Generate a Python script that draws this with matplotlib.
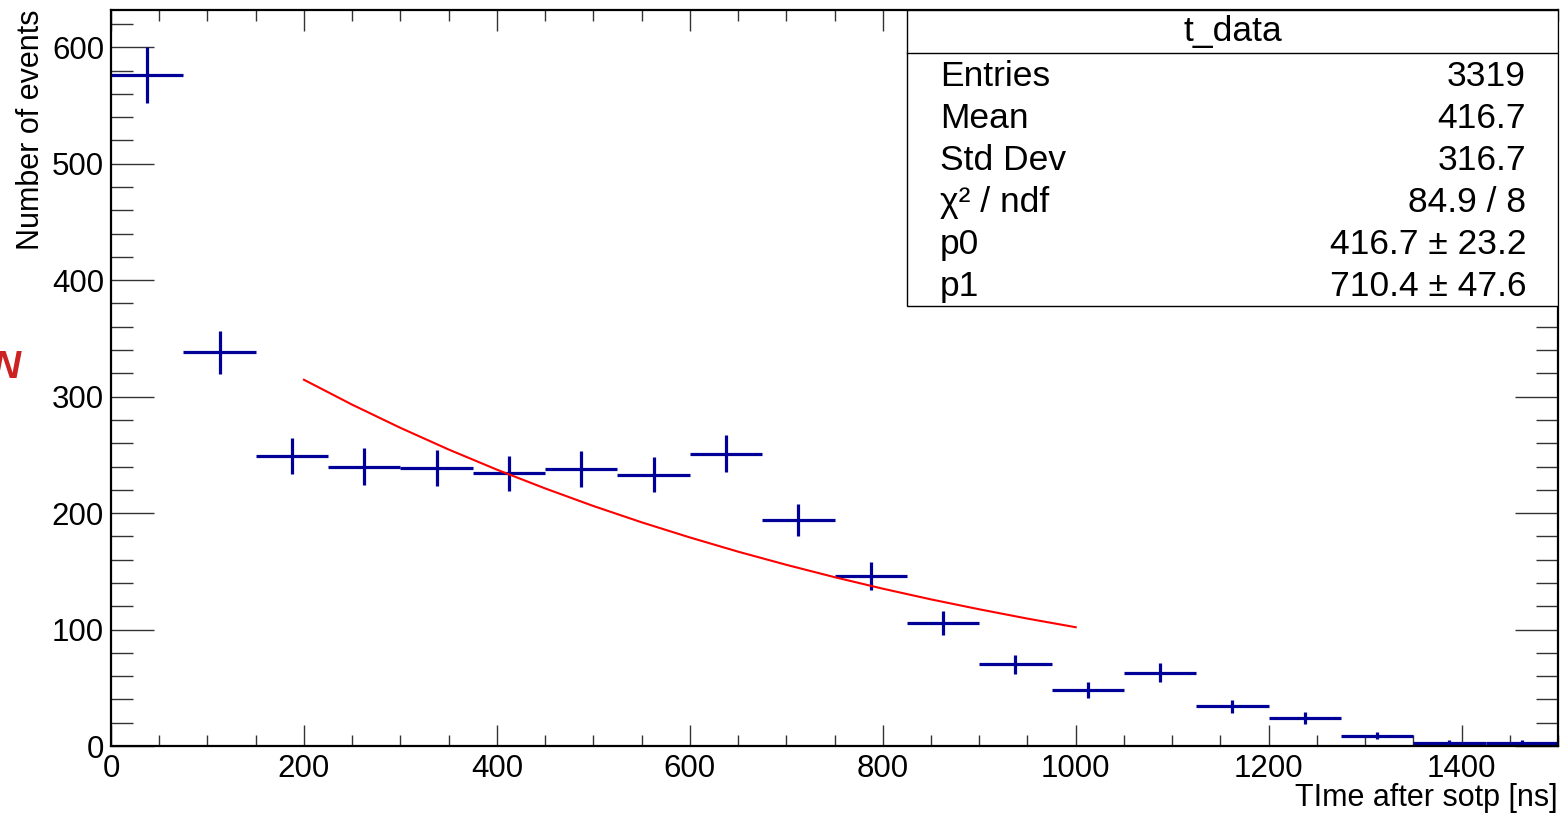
import numpy as np
import matplotlib
matplotlib.use('Agg')
import matplotlib.pyplot as plt
from matplotlib.ticker import MultipleLocator
from matplotlib.patches import Rectangle

# histogram contents (20 bins of 75 ns)
bin_edges = np.arange(0, 1501, 75)
counts = [576, 338, 249, 240, 239, 234, 238, 233, 251, 194,
          146, 106, 70, 48, 63, 34, 24, 9, 3, 3]

# fit curve
fit_x = [200, 250, 300, 350, 400, 450, 500, 550, 600, 650,
         700, 750, 800, 850, 900, 950, 1000]
fit_y = [314.5, 293.1, 273.2, 254.6, 237.3, 221.2, 206.1, 192.1, 179.1, 166.9,
         155.6, 145.0, 135.1, 125.9, 117.4, 109.4, 102.0]

# stats box
stat_title = 't_data'
stat_names = ['Entries', 'Mean', 'Std Dev', 'χ² / ndf', 'p0', 'p1']
stat_values = ['3319', '416.7', '316.7', '84.9 / 8',
               '416.7 ± 23.2', '710.4 ± 47.6']

plt.rcParams['font.family'] = ['Liberation Sans', 'DejaVu Sans']

fig = plt.figure(figsize=(15.63, 8.13), dpi=100)
ax = fig.add_axes([111/1563, 67/813, 1447/1563, 736/813])

centers = (bin_edges[:-1] + bin_edges[1:]) / 2
counts = np.array(counts)
ax.errorbar(centers, counts, xerr=37.5, yerr=np.sqrt(counts), fmt='none',
            ecolor='#000099', elinewidth=2.3, capsize=0)
ax.plot(fit_x, fit_y, color='#ff0000', lw=1.5)

ax.set_xlim(0, 1500)
ax.set_ylim(0, 632)
for s in ax.spines.values():
    s.set_linewidth(1.6)

ax.xaxis.set_major_locator(MultipleLocator(200))
ax.xaxis.set_minor_locator(MultipleLocator(50))
ax.yaxis.set_major_locator(MultipleLocator(100))
ax.yaxis.set_minor_locator(MultipleLocator(20))
ax.tick_params(which='both', direction='in', top=True, right=True,
               labelsize=22.5, color='#333333', width=1)
ax.tick_params(axis='x', which='major', length=15, pad=6)
ax.tick_params(axis='x', which='minor', length=8)
ax.tick_params(axis='y', which='major', length=31, pad=5)
ax.tick_params(axis='y', which='minor', length=16)

ax.set_ylabel('Number of events', fontsize=22, loc='top', labelpad=4)
ax.set_xlabel('TIme after sotp [ns]', fontsize=22, loc='right', labelpad=-1)

# stats box
bx0, by0 = (907-111)/1447, (746-306)/736
ax.add_patch(Rectangle((bx0, by0), 1-bx0, 1-by0, transform=ax.transAxes,
                       facecolor='white', edgecolor='black', lw=1, zorder=5))
sep = (746-53)/736
ax.plot([bx0, 1], [sep, sep], transform=ax.transAxes, color='black', lw=1, zorder=6)
ax.text((bx0+1)/2, (746-32)/736, stat_title, transform=ax.transAxes,
        ha='center', va='center', fontsize=25.5, zorder=7)
for i, (n, v) in enumerate(zip(stat_names, stat_values)):
    yy = (746-(76+42*i))/736
    ax.text((940-111)/1447, yy, n, transform=ax.transAxes, ha='left',
            va='center', fontsize=25.5, zorder=7)
    ax.text((1526-111)/1447, yy, v, transform=ax.transAxes, ha='right',
            va='center', fontsize=25.5, zorder=7)

# stray label at the left edge, cut off as in the original
fig.text(-8/1563, (813-368)/813, 'N', color='#cc2222', fontsize=28,
         style='italic', weight='bold', ha='left', va='center')

plt.savefig('out.png', dpi=100)
